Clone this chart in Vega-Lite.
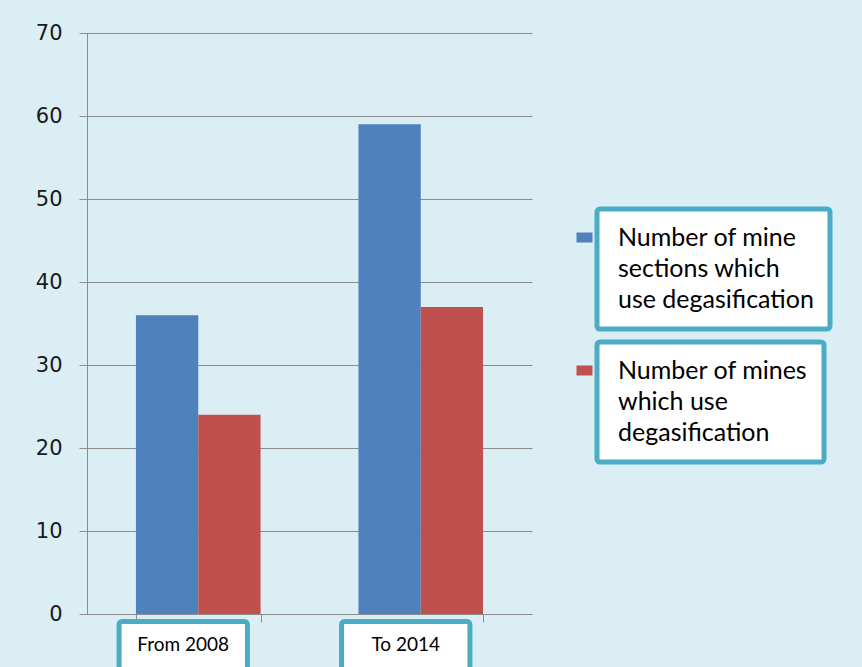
{
  "$schema": "https://vega.github.io/schema/vega-lite/v6.json",
  "width": 445,
  "height": 581,
  "autosize": {"type": "none"},
  "padding": {"left": 87, "top": 33, "right": 330, "bottom": 53},
  "background": "#dbeef4",
  "config": {"view": {"stroke": null}},
  "data": {
    "values": [
      {"period": "From 2008", "series": "Number of mine sections which use degasification", "value": 36},
      {"period": "From 2008", "series": "Number of mines which  use degasification", "value": 24},
      {"period": "To 2014", "series": "Number of mine sections which use degasification", "value": 59},
      {"period": "To 2014", "series": "Number of mines which  use degasification", "value": 37}
    ]
  },
  "encoding": {
    "x": {
      "field": "period", "type": "nominal", "sort": null,
      "scale": {"paddingInner": 0.44, "paddingOuter": 0.22},
      "axis": {"title": null, "labels": false, "domainColor": "#8c8c8c", "tickColor": "#8c8c8c", "tickBand": "extent", "tickSize": 8, "grid": false}
    }
  },
  "layer": [
    {
      "transform": [{"filter": "datum.series == 'Number of mine sections which use degasification'"}],
      "mark": {"type": "bar"},
      "encoding": {
        "xOffset": {"field": "series", "type": "nominal", "scale": {"domain": ["Number of mine sections which use degasification", "Number of mines which  use degasification"], "paddingInner": 0, "paddingOuter": 0}},
        "y": {
          "field": "value", "type": "quantitative",
          "scale": {"domain": [0, 70], "nice": false},
          "axis": {"title": null, "values": [0, 10, 20, 30, 40, 50, 60, 70], "grid": true, "gridColor": "#8c8c8c", "gridOpacity": 1, "domainColor": "#8c8c8c", "tickColor": "#8c8c8c", "tickSize": 8, "labelPadding": 17, "labelFont": "DejaVu Sans", "labelFontSize": 21, "labelColor": "#1a1a1a"}
        },
        "color": {
          "field": "series", "type": "nominal",
          "scale": {"range": ["#4f81bd"]},
          "legend": {
            "orient": "none", "legendX": 510, "legendY": 176, "title": null,
            "fillColor": "white", "strokeColor": "#4bacc6", "padding": 16, "cornerRadius": 3,
            "symbolType": "M-1,-0.625H1V0.625H-1Z", "symbolSize": 256, "symbolOffset": -41, "symbolStrokeWidth": 0, "symbolOpacity": 1,
            "labelOffset": 21, "labelFont": "Lato", "labelFontSize": 25, "labelColor": "black", "labelLimit": 400,
            "labelExpr": "['Number of mine', 'sections which', 'use degasification\u00a0\u00a0']",
            "encode": {"legend": {"update": {"strokeWidth": {"value": 5}}}, "labels": {"update": {"lineHeight": {"value": 31}}}}
          }
        }
      }
    },
    {
      "transform": [{"filter": "datum.series == 'Number of mines which  use degasification'"}],
      "mark": {"type": "bar"},
      "encoding": {
        "xOffset": {"field": "series", "type": "nominal"},
        "y": {"field": "value", "type": "quantitative"},
        "color": {
          "field": "series", "type": "nominal",
          "scale": {"range": ["#c0504d"]},
          "legend": {
            "orient": "none", "legendX": 510, "legendY": 309, "title": null,
            "fillColor": "white", "strokeColor": "#4bacc6", "padding": 16, "cornerRadius": 3,
            "symbolType": "M-1,-0.625H1V0.625H-1Z", "symbolSize": 256, "symbolOffset": -41, "symbolStrokeWidth": 0, "symbolOpacity": 1,
            "labelOffset": 21, "labelFont": "Lato", "labelFontSize": 25, "labelColor": "black", "labelLimit": 400,
            "labelExpr": "['Number of mines\u00a0\u00a0\u00a0\u00a0', 'which  use', 'degasification']",
            "encode": {"legend": {"update": {"strokeWidth": {"value": 5}}}, "labels": {"update": {"lineHeight": {"value": 31}}}}
          }
        }
      }
    },
    {
      "transform": [{"filter": "datum.series == 'Number of mine sections which use degasification'"}],
      "mark": {"type": "bar", "fill": "white", "stroke": "#4bacc6", "strokeWidth": 5, "cornerRadius": 3, "width": {"band": 1.03}, "xOffset": -15},
      "encoding": {
        "y": {"datum": -0.9},
        "y2": {"datum": -7}
      }
    },
    {
      "transform": [{"filter": "datum.series == 'Number of mine sections which use degasification'"}],
      "mark": {"type": "text", "font": "Lato", "fontSize": 19, "color": "black", "baseline": "middle", "dx": -15},
      "encoding": {
        "y": {"datum": -3.7},
        "text": {"field": "period"}
      }
    }
  ],
  "resolve": {"scale": {"color": "independent"}, "legend": {"color": "independent"}}
}
